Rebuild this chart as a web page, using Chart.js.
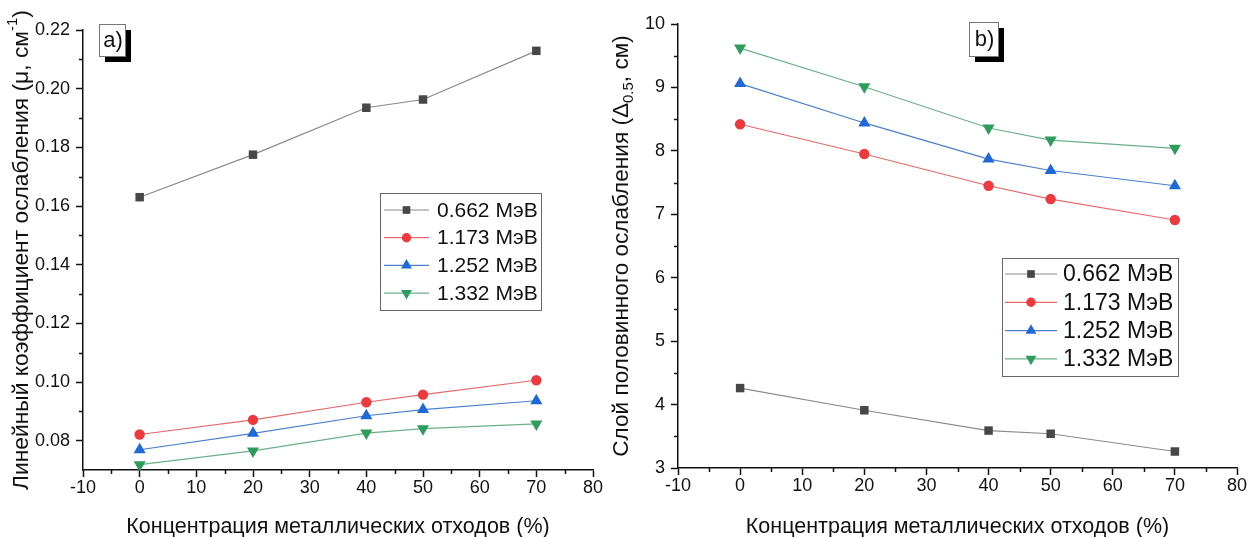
<!DOCTYPE html>
<html>
<head>
<meta charset="utf-8">
<script src="https://cdn.jsdelivr.net/npm/chart.js@4.4.0/dist/chart.umd.min.js"></script>
<style>
  html, body { margin: 0; padding: 0; background: #fff; }
  #wrap { position: relative; width: 1249px; height: 537px; overflow: hidden; }
  canvas { position: absolute; top: 0; }
  #chartA { left: 0; }
  #chartB { left: 600px; }
</style>
</head>
<body>
<div id="wrap">
  <canvas id="chartA" width="620" height="537"></canvas>
  <canvas id="chartB" width="649" height="537"></canvas>
</div>
<script>
// концентрация металлических отходов, %
const concentrations = [0, 20, 40, 50, 70];
const energyLabels = ['0.662 МэВ', '1.173 МэВ', '1.252 МэВ', '1.332 МэВ'];

// a) линейный коэффициент ослабления, см^-1
const mu0662 = [0.1630, 0.1775, 0.1935, 0.1963, 0.2129];
const mu1173 = [0.0821, 0.0871, 0.0931, 0.0957, 0.1006];
const mu1252 = [0.0769, 0.0825, 0.0885, 0.0906, 0.0936];
const mu1332 = [0.0718, 0.0765, 0.0826, 0.0841, 0.0857];

// b) слой половинного ослабления, см
const hvl0662 = [4.26, 3.91, 3.59, 3.54, 3.26];
const hvl1173 = [8.42, 7.95, 7.45, 7.24, 6.91];
const hvl1252 = [9.06, 8.44, 7.87, 7.69, 7.45];
const hvl1332 = [9.62, 9.01, 8.36, 8.17, 8.04];

// деления осей
const xMinorTicks = [-5, 5, 15, 25, 35, 45, 55, 65, 75];
const yTicksA = [0.08, 0.10, 0.12, 0.14, 0.16, 0.18, 0.20, 0.22];
const yMinorTicksA = [0.09, 0.11, 0.13, 0.15, 0.17, 0.19, 0.21];
const yTicksB = [3, 4, 5, 6, 7, 8, 9, 10];
const yMinorTicksB = [3.5, 4.5, 5.5, 6.5, 7.5, 8.5, 9.5];

const FONT = "'Liberation Sans', Arial, sans-serif";

// стиль серий как в Origin
const seriesStyles = [
  { marker: '#474747', line: '#8a8a8a', pointStyle: 'rect', radius: 6, rotation: 0 },
  { marker: '#ec3a3f', line: '#e46a6a', pointStyle: 'circle', radius: 5.2, rotation: 0 },
  { marker: '#1f68d8', line: '#4b7fcb', pointStyle: 'triangle', radius: 7, rotation: 0 },
  { marker: '#2e9c5c', line: '#6cb088', pointStyle: 'triangle', radius: 7, rotation: 180 }
];

function makeDatasets(seriesList) {
  return seriesList.map((vals, i) => {
    const st = seriesStyles[i];
    return {
      label: energyLabels[i],
      data: concentrations.map((c, k) => ({ x: c, y: vals[k] })),
      borderColor: st.line,
      borderWidth: 1.2,
      pointStyle: st.pointStyle,
      pointRadius: st.radius,
      pointHoverRadius: st.radius,
      pointRotation: st.rotation,
      pointBackgroundColor: st.marker,
      pointBorderColor: st.marker,
      pointBorderWidth: 0,
      tension: 0
    };
  });
}

// оформление: мелкие деления, подписи осей, легенда, метка панели
const originDecor = {
  id: 'originDecor',
  afterDraw(chart, args, opts) {
    const ctx = chart.ctx;
    const xs = chart.scales.x, ys = chart.scales.y;
    const area = chart.chartArea;
    ctx.save();

    // мелкие деления
    ctx.strokeStyle = '#111';
    ctx.lineWidth = 1.5;
    opts.xMinor.forEach(v => {
      const px = Math.round(xs.getPixelForValue(v)) + 0.5;
      ctx.beginPath(); ctx.moveTo(px, area.bottom); ctx.lineTo(px, area.bottom + 4); ctx.stroke();
    });
    opts.yMinor.forEach(v => {
      const py = Math.round(ys.getPixelForValue(v)) + 0.5;
      ctx.beginPath(); ctx.moveTo(area.left, py); ctx.lineTo(area.left - 4, py); ctx.stroke();
    });

    // подпись оси X
    ctx.fillStyle = '#111';
    ctx.font = opts.xTitleSize + 'px ' + FONT;
    ctx.textAlign = 'center';
    ctx.textBaseline = 'middle';
    ctx.fillText(opts.xTitle, (area.left + area.right) / 2, opts.xTitleY);

    // подпись оси Y (с индексами)
    const fs = opts.yTitleSize;
    const small = Math.round(fs * 0.65);
    let total = 0;
    opts.yTitle.forEach(seg => {
      ctx.font = (seg.sup || seg.sub ? small : fs) + 'px ' + FONT;
      seg.w = ctx.measureText(seg.t).width;
      total += seg.w;
    });
    ctx.translate(opts.yTitleX, (area.top + area.bottom) / 2);
    ctx.rotate(-Math.PI / 2);
    ctx.textAlign = 'left';
    let cx = -total / 2;
    opts.yTitle.forEach(seg => {
      ctx.font = (seg.sup || seg.sub ? small : fs) + 'px ' + FONT;
      const dy = seg.sup ? -fs * 0.38 : (seg.sub ? fs * 0.3 : 0);
      ctx.fillText(seg.t, cx, dy);
      cx += seg.w;
    });
    ctx.setTransform(1, 0, 0, 1, 0, 0);

    // метка панели с тенью
    const p = opts.panel;
    ctx.fillStyle = '#000';
    ctx.fillRect(p.x + 6, p.y + 6, p.w, p.h);
    ctx.fillStyle = '#fff';
    ctx.fillRect(p.x, p.y, p.w, p.h);
    ctx.strokeStyle = '#777';
    ctx.lineWidth = 1;
    ctx.strokeRect(p.x + 0.5, p.y + 0.5, p.w, p.h);
    ctx.fillStyle = '#111';
    ctx.font = '22px ' + FONT;
    ctx.textAlign = 'center';
    ctx.fillText(p.text, p.x + p.w / 2 + 1, p.y + p.h / 2 + 1);

    // легенда
    const lg = opts.legend;
    ctx.fillStyle = '#fff';
    ctx.fillRect(lg.left, lg.top, lg.width, lg.height);
    ctx.strokeStyle = '#666';
    ctx.lineWidth = 1;
    ctx.strokeRect(lg.left + 0.5, lg.top + 0.5, lg.width, lg.height);
    chart.data.datasets.forEach((ds, i) => {
      const y = lg.top + lg.firstRow + i * lg.rowH;
      ctx.strokeStyle = ds.borderColor;
      ctx.lineWidth = 1.2;
      ctx.beginPath(); ctx.moveTo(lg.lineFrom, y); ctx.lineTo(lg.lineTo, y); ctx.stroke();
      ctx.fillStyle = ds.pointBackgroundColor;
      Chart.helpers.drawPoint(ctx, {
        pointStyle: ds.pointStyle, radius: ds.pointRadius * 0.9, rotation: ds.pointRotation, borderWidth: 0
      }, (lg.lineFrom + lg.lineTo) / 2, y);
      ctx.fillStyle = '#111';
      ctx.font = lg.fontSize + 'px ' + FONT;
      ctx.textAlign = 'left';
      ctx.textBaseline = 'middle';
      ctx.fillText(ds.label, lg.textX, y + 1);
    });

    ctx.restore();
  }
};

function axisOptions(cfg) {
  return {
    x: {
      type: 'linear',
      min: -10, max: 80,
      ticks: { stepSize: 10, color: '#111', font: { family: FONT, size: 18 }, padding: 0,
               maxRotation: 0, callback: v => String(v) },
      grid: { drawOnChartArea: false, drawTicks: true, tickLength: 7, tickColor: '#111', tickWidth: 1.5 },
      border: { display: true, color: '#111', width: 1.5 },
      afterFit: s => { s.height = cfg.xHeight; }
    },
    y: {
      type: 'linear',
      min: cfg.yMin, max: cfg.yMax,
      afterBuildTicks: s => { s.ticks = cfg.yTicks.map(v => ({ value: v })); },
      ticks: { color: '#111', font: { family: FONT, size: 18 }, padding: 6,
               callback: cfg.yFormat },
      grid: { drawOnChartArea: false, drawTicks: true, tickLength: 7, tickColor: '#111', tickWidth: 1.5 },
      border: { display: true, color: '#111', width: 1.5 },
      afterFit: s => { s.width = cfg.yWidth; }
    }
  };
}

// ГРАФИК a)
new Chart(document.getElementById('chartA').getContext('2d'), {
  type: 'line',
  data: { datasets: makeDatasets([mu0662, mu1173, mu1252, mu1332]) },
  options: {
    responsive: false,
    animation: false,
    layout: { padding: { top: 30, right: 27, bottom: 0, left: 0 } },
    scales: axisOptions({ xHeight: 67, yWidth: 83, yMin: 0.07, yMax: 0.22, yTicks: yTicksA,
                          yFormat: v => v.toFixed(2) }),
    plugins: {
      legend: { display: false },
      tooltip: { enabled: false },
      originDecor: {
        xMinor: xMinorTicks,
        yMinor: yMinorTicksA,
        xTitle: 'Концентрация металлических отходов (%)',
        xTitleSize: 21.5,
        xTitleY: 527,
        yTitleX: 22,
        yTitleSize: 22.8,
        yTitle: [{ t: 'Линейный коэффициент ослабления (μ, см' }, { t: '-1', sup: true }, { t: ')' }],
        panel: { x: 99, y: 24, w: 26, h: 32, text: 'a)' },
        legend: { left: 380, top: 193, width: 161, height: 117, firstRow: 17, rowH: 27.7,
                  lineFrom: 384, lineTo: 429, textX: 437, fontSize: 21 }
      }
    }
  },
  plugins: [originDecor]
});

// ГРАФИК b)
new Chart(document.getElementById('chartB').getContext('2d'), {
  type: 'line',
  data: { datasets: makeDatasets([hvl0662, hvl1173, hvl1252, hvl1332]) },
  options: {
    responsive: false,
    animation: false,
    layout: { padding: { top: 24, right: 12, bottom: 0, left: 0 } },
    scales: axisOptions({ xHeight: 69, yWidth: 78, yMin: 3, yMax: 10, yTicks: yTicksB,
                          yFormat: v => String(v) }),
    plugins: {
      legend: { display: false },
      tooltip: { enabled: false },
      originDecor: {
        xMinor: xMinorTicks,
        yMinor: yMinorTicksB,
        xTitle: 'Концентрация металлических отходов (%)',
        xTitleSize: 21.5,
        xTitleY: 527,
        yTitleX: 22,
        yTitleSize: 22.6,
        yTitle: [{ t: 'Слой половинного ослабления (Δ' }, { t: '0.5', sub: true }, { t: ', см)' }],
        panel: { x: 369, y: 22, w: 29, h: 34, text: 'b)' },
        legend: { left: 402, top: 258, width: 176, height: 118, firstRow: 16, rowH: 28.3,
                  lineFrom: 405, lineTo: 457, textX: 463, fontSize: 23 }
      }
    }
  },
  plugins: [originDecor]
});
</script>
</body>
</html>
